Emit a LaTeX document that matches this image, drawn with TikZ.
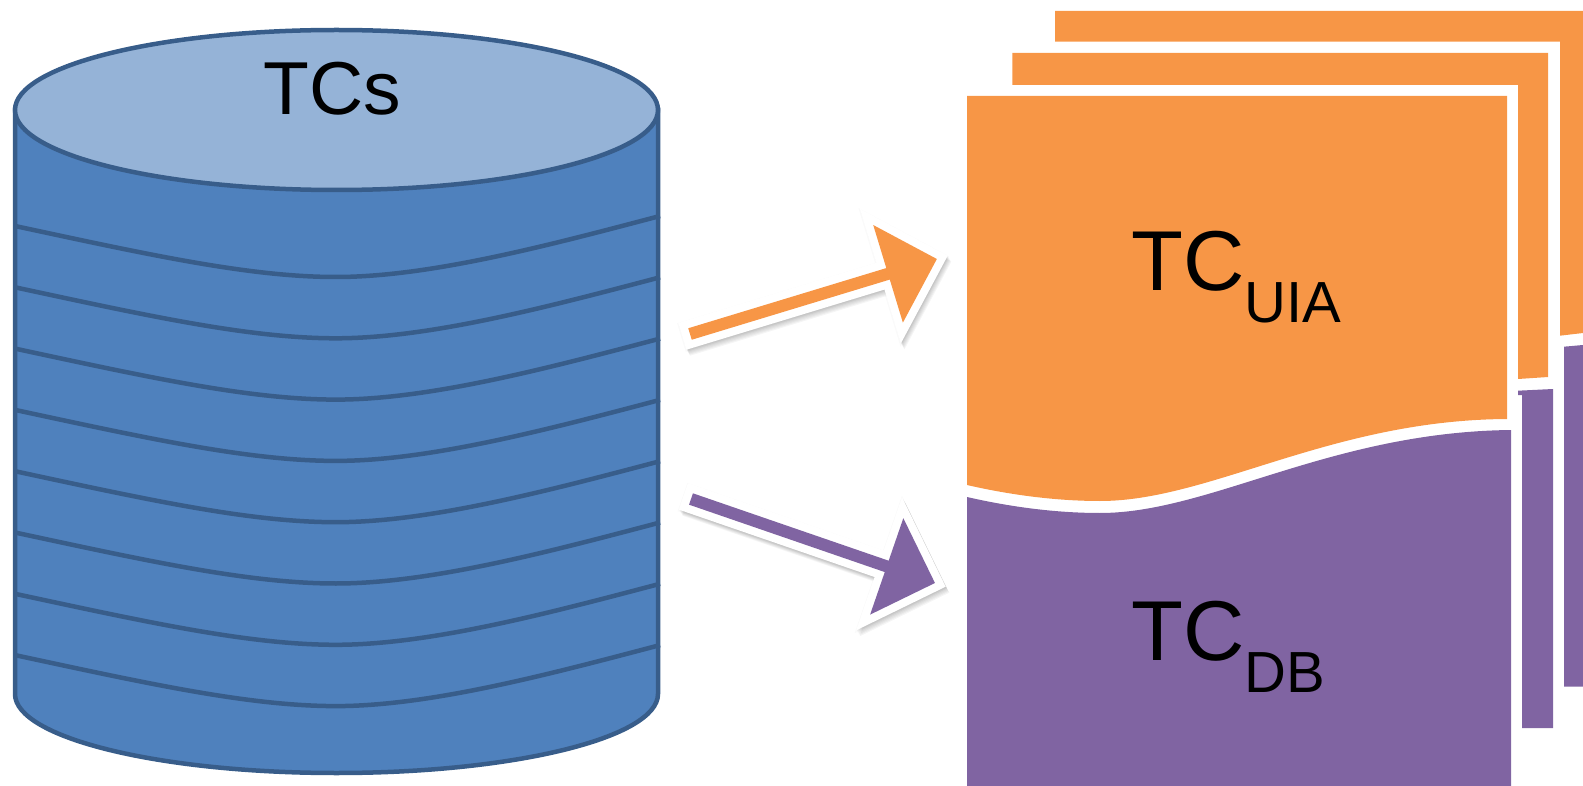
\documentclass[tikz,border=0pt]{standalone}
\usepackage{fontspec}
\setmainfont{Liberation Sans}
\usetikzlibrary{shapes.arrows,shadows}
\definecolor{tcorange}{HTML}{F79646}
\definecolor{tcpurple}{HTML}{8064A2}
\definecolor{tcblue}{HTML}{4F81BD}
\definecolor{tclight}{HTML}{95B3D7}
\definecolor{tcedge}{HTML}{385D8A}
\newcommand{\subtext}[1]{{\fontsize{58}{58}\selectfont\raisebox{-32pt}{#1}}}
\begin{document}
\begin{tikzpicture}[x=1pt, y=-1pt,
	edge/.style={draw=tcedge, line width=4.5pt},
	softshade/.style={general shadow={shadow xshift=.6*#1, shadow yshift=-#1, draw=black, line width=16pt, opacity=.04}},
	halo/.style={general shadow={shadow yshift=-1pt, draw=black, line width=#1, opacity=.02}},
	blockarrow/.style={single arrow, minimum height=258pt, minimum width=101pt, inner sep=5.8pt, outer sep=0pt,
		single arrow head extend=45pt, halo=18pt, softshade=6pt, softshade=5pt, softshade=4pt, softshade=3pt, softshade=2pt, softshade=1pt,
		preaction={draw=white, line width=16pt}},
	label/.style={font=\fontsize{85}{85}\selectfont, anchor=base west, inner sep=0pt}]
	\useasboundingbox (0,0) rectangle (1583,786);

	% cylinder
	\path[edge, fill=tcblue] (15,110) -- (15,694) arc[start angle=180, end angle=360, x radius=321.5pt, y radius=79pt] -- (658,110) -- cycle;
	\foreach \i in {0,...,7}
		\draw[edge, yshift=-61.3*\i] (15,226) .. controls (150,255) and (250,277) .. (336,277) .. controls (430,277) and (550,245) .. (660,216);
	\path[edge, fill=tclight] (336.5,110) ellipse[x radius=321.5pt, y radius=80pt];
	\node [font=\fontsize{75}{75}\selectfont, anchor=base, inner sep=0pt] (TCs) at (332,115) {TCs};

	% arrows
	\node [blockarrow, fill=tcorange, anchor=tail, rotate=16.9] (toUIA) at (690,334) {};
	\node [blockarrow, fill=tcpurple, anchor=tail, rotate=-19] (toDB) at (691,499) {};

	% back pages
	\fill[tcorange] (1055,11) -- (1583,11) -- (1583,333) -- (1560,335.7) -- (1560,41.7) -- (1055,41.7) -- cycle;
	\fill[tcpurple] (1564,346.7) -- (1583,345) -- (1583,686.7) -- (1564,686.7) -- cycle;
	\fill[tcorange] (1012.4,53) -- (1548,53) -- (1548,377) -- (1518,379) -- (1518,85) -- (1012.4,85) -- cycle;
	\fill[tcpurple] (1518,390.7) -- (1553,389) -- (1553,728) -- (1522,728) -- (1522,395) -- (1518,395) -- cycle;

	% front page
	\fill[tcorange] (967,96) -- (1507,96) -- (1507,419) .. controls (1330,420) and (1210,501) .. (1100,501) .. controls (1060,501) and (1015,496) .. (967,485) -- cycle;
	\fill[tcpurple] (967,497) .. controls (1015,508) and (1060,513) .. (1100,513) .. controls (1210,513) and (1330,432) .. (1511,430) -- (1511,786) -- (967,786) -- cycle;
	\node [label] (TCUIA) at (1131,291) {TC\subtext{UIA}};
	\node [label] (TCDB) at (1131,660) {TC\subtext{DB}};
\end{tikzpicture}
\end{document}
